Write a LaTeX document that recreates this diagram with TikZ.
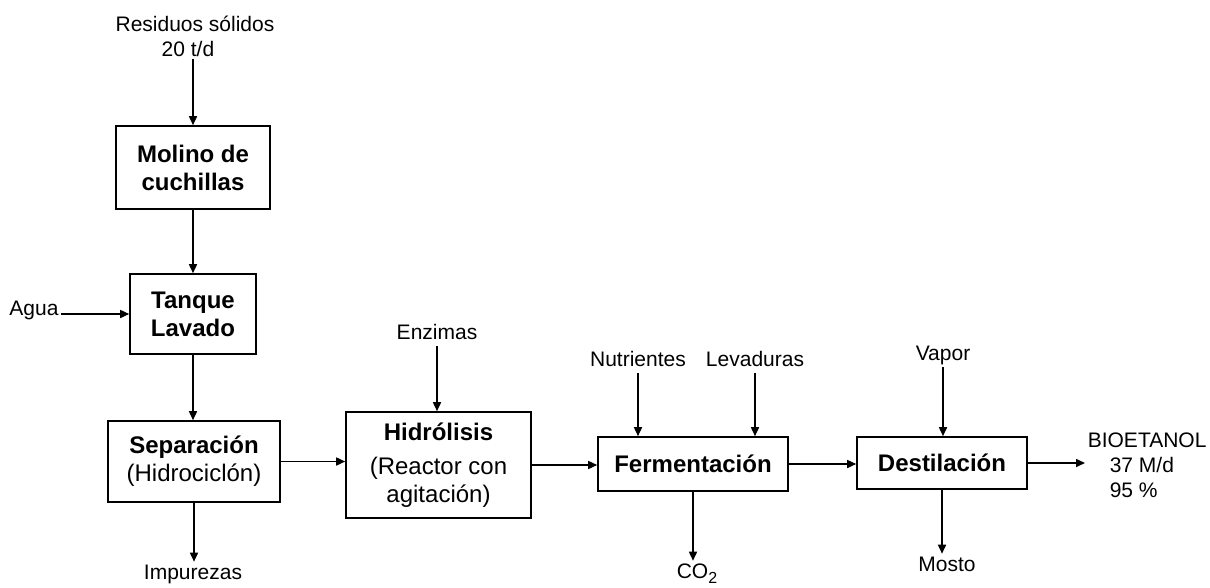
\documentclass[tikz,border=0pt]{standalone}
\usepackage{fontspec}
\setmainfont{Liberation Sans}
\usetikzlibrary{arrows.meta}
\newcommand{\regline}[1]{{\mdseries #1}}
\begin{document}
\begin{tikzpicture}[x=1pt, y=-1pt, line width=1.6pt, >={Triangle[length=9pt,width=8pt]}]
    \tikzstyle{every node}=[inner sep=2pt]
    \tikzstyle{unit}=[draw, align=center, font=\bfseries\fontsize{24}{28}\selectfont]
    \tikzstyle{flow}=[font=\fontsize{21}{25}\selectfont, text height=15pt, text depth=4pt]
    \tikzstyle{flowblock}=[font=\fontsize{21}{25}\selectfont]
    \tikzstyle{stream}=[draw, ->]

    \useasboundingbox (0,0) rectangle (1210,587);

% process units
    \node[unit, minimum width=154pt, minimum height=83pt] (mol) at (193,167.5) {Molino de\\cuchillas};
    \node[unit, minimum width=126pt, minimum height=80pt] (tan) at (193,314) {Tanque\\Lavado};
    \node[unit, minimum width=172pt, minimum height=81pt] (sep) at (194,461.5) {Separación\\\regline{(Hidrociclón)}};
    \node[unit, minimum width=185pt, minimum height=106pt] (hid) at (438.5,465) {Hidrólisis\\[6pt]\regline{(Reactor con}\\\regline{agitación)}};
    \node[unit, minimum width=190pt, minimum height=54pt] (fer) at (693,464) {Fermentación};
    \node[unit, minimum width=170pt, minimum height=52pt] (des) at (942,463) {Destilación};

% inputs and outputs
    \node[flowblock, align=center] (res) at (195,36) {Residuos sólidos\\20 t/d\hspace*{14pt}};
    \node[flow] (agua) at (34,310) {Agua};
    \node[flow] (enz) at (437,334) {Enzimas};
    \node[flow] (nut) at (638,361) {Nutrientes};
    \node[flow] (lev) at (755,361) {Levaduras};
    \node[flow] (vap) at (943,355) {Vapor};
    \node[flow] (imp) at (193,574) {Impurezas};
    \node[flow] (co2) at (697,573) {CO\raisebox{-5pt}{\fontsize{16}{16}\selectfont 2}};
    \node[flow] (mos) at (947,566) {Mosto};
    \node[flowblock, align=left, anchor=west, inner sep=0pt] (bio) at (1087,465) {BIOETANOL\\\hspace*{22pt}37 M/d\\\hspace*{22pt}95 \%};

% streams
    \path[stream] (res.south -| mol.north) -- (mol.north);
    \path[stream] (mol) -- (tan);
    \path[stream] (agua.east |- tan.west) -- (tan.west);
    \path[stream] (tan.south) -- (tan.south |- sep.north);
    \path[stream] (sep.south) -- (sep.south |- imp.north);
    \path[stream] (sep.east) -- (sep.east -| hid.west);
    \path[stream] (enz.south) -- (enz.south |- hid.north);
    \path[stream] (hid.east) -- (hid.east -| fer.west);
    \path[stream] (nut.south) -- (nut.south |- fer.north);
    \path[stream] (lev.south) -- (lev.south |- fer.north);
    \path[stream] (fer.south) -- (fer.south |- co2.north);
    \path[stream] (fer.east) -- (fer.east -| des.west);
    \path[stream] (vap.south) -- (vap.south |- des.north);
    \path[stream] (des.south) -- (des.south |- mos.north);
    \path[stream] (des.east) -- ([xshift=-2pt]des.east -| bio.west);

\end{tikzpicture}
\end{document}
